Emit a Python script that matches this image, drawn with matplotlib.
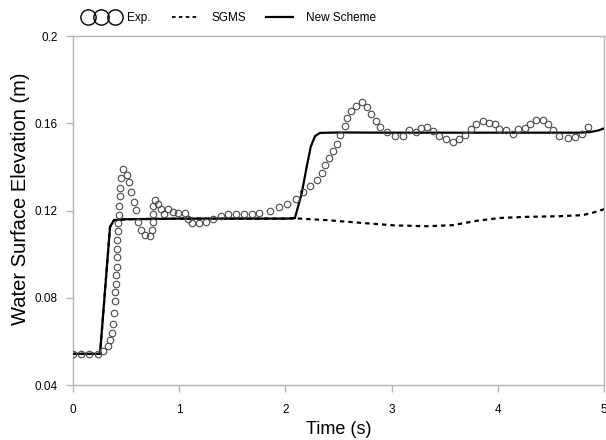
import matplotlib
matplotlib.use("Agg")
import matplotlib.pyplot as plt
from matplotlib.lines import Line2D
from matplotlib.legend_handler import HandlerLine2D

plt.rcParams['font.family'] = ['Liberation Sans', 'DejaVu Sans']

# Experimental data (time s, elevation m)
exp_t = [0.000, 0.078, 0.156, 0.235, 0.288, 0.335, 0.348, 0.370, 0.382, 0.389,
         0.395, 0.401, 0.407, 0.407, 0.414, 0.417, 0.420, 0.420, 0.423, 0.426,
         0.433, 0.436, 0.442, 0.448, 0.452, 0.476, 0.508, 0.527, 0.548, 0.577,
         0.595, 0.614, 0.643, 0.677, 0.727, 0.746, 0.753, 0.755, 0.755, 0.771,
         0.805, 0.831, 0.856, 0.894, 0.944, 0.993, 1.054, 1.087, 1.125, 1.188,
         1.251, 1.323, 1.392, 1.464, 1.536, 1.611, 1.690, 1.755, 1.859, 1.941,
         2.019, 2.103, 2.169, 2.232, 2.295, 2.342, 2.376, 2.411, 2.446, 2.484,
         2.515, 2.559, 2.583, 2.618, 2.662, 2.719, 2.771, 2.806, 2.850, 2.891,
         2.960, 3.035, 3.104, 3.164, 3.227, 3.274, 3.330, 3.389, 3.446, 3.512,
         3.580, 3.637, 3.693, 3.750, 3.797, 3.860, 3.916, 3.973, 4.010, 4.076,
         4.139, 4.192, 4.255, 4.302, 4.358, 4.427, 4.471, 4.516, 4.578, 4.657,
         4.728, 4.788, 4.848]
exp_y = [0.0543, 0.0543, 0.0543, 0.0543, 0.0557, 0.0579, 0.0606, 0.0640, 0.0678, 0.0731,
         0.0784, 0.0826, 0.0863, 0.0904, 0.0939, 0.0985, 0.1024, 0.1064, 0.1104, 0.1144,
         0.1180, 0.1221, 0.1266, 0.1304, 0.1347, 0.1390, 0.1362, 0.1329, 0.1283, 0.1238,
         0.1202, 0.1147, 0.1113, 0.1087, 0.1083, 0.1110, 0.1148, 0.1185, 0.1220, 0.1248,
         0.1232, 0.1205, 0.1182, 0.1206, 0.1194, 0.1187, 0.1187, 0.1161, 0.1141, 0.1144,
         0.1147, 0.1162, 0.1176, 0.1182, 0.1182, 0.1182, 0.1182, 0.1187, 0.1197, 0.1215,
         0.1231, 0.1255, 0.1283, 0.1312, 0.1339, 0.1370, 0.1407, 0.1441, 0.1475, 0.1507,
         0.1547, 0.1588, 0.1626, 0.1657, 0.1681, 0.1696, 0.1675, 0.1641, 0.1611, 0.1583,
         0.1559, 0.1541, 0.1541, 0.1568, 0.1560, 0.1579, 0.1582, 0.1564, 0.1541, 0.1526,
         0.1515, 0.1528, 0.1547, 0.1574, 0.1597, 0.1609, 0.1602, 0.1597, 0.1574, 0.1571,
         0.1549, 0.1574, 0.1577, 0.1597, 0.1614, 0.1614, 0.1597, 0.1571, 0.1544, 0.1532,
         0.1535, 0.1553, 0.1582]

# New Scheme
new_t = [0.0, 0.257, 0.351, 0.389, 0.5, 1.0, 1.5, 2.0, 2.09, 2.154, 2.201, 2.239,
         2.279, 2.326, 2.5, 3.0, 3.5, 4.0, 4.5, 4.77, 4.87, 4.95, 5.0]
new_y = [0.0543, 0.0543, 0.1125, 0.1156, 0.1160, 0.1163, 0.1163, 0.1163, 0.1165, 0.1278,
         0.1400, 0.1492, 0.1541, 0.1556, 0.1558, 0.1557, 0.1557, 0.1557, 0.1557, 0.1557,
         0.1560, 0.1568, 0.1577]

# SGMS
sgms_t = [0.0, 0.257, 0.351, 0.389, 0.5, 1.0, 1.5, 2.0, 2.1, 2.39, 2.70, 3.02, 3.33,
          3.58, 3.80, 4.02, 4.27, 4.58, 4.80, 4.90, 5.0]
sgms_y = [0.0543, 0.0543, 0.1125, 0.1156, 0.1160, 0.1163, 0.1163, 0.1163, 0.1164, 0.1156,
          0.1144, 0.1132, 0.1128, 0.1133, 0.1153, 0.1166, 0.1171, 0.1174, 0.1179, 0.1191,
          0.1206]

x_ticks = [0, 1, 2, 3, 4, 5]
y_ticks = [0.04, 0.08, 0.12, 0.16, 0.2]
y_tick_labels = ["0.04", "0.08", "0.12", "0.16", "0.2"]
legend_labels = ['Exp.', 'SGMS', 'New Scheme']

fig = plt.figure(figsize=(6.06, 4.40), dpi=100)
ax = fig.add_axes([0.12, 0.125, 0.877, 0.793])

ax.plot(sgms_t, sgms_y, color='black', lw=1.6, linestyle=(0, (2.0, 1.8)), zorder=2)
ax.plot(new_t, new_y, color='black', lw=1.6, zorder=3)
ax.plot(exp_t, exp_y, linestyle='none', marker='o', ms=4.7, mfc='none',
        mec='#4a4a4a', mew=0.8, zorder=4)

ax.set_xlim(0, 5)
ax.set_ylim(0.04, 0.2)
ax.set_xticks(x_ticks)
ax.set_yticks(y_ticks)
ax.set_yticklabels(y_tick_labels)
ax.tick_params(axis='both', direction='out', length=5, width=1, color='#b4b4b4',
               labelsize=8.5)
ax.tick_params(axis='x', pad=9)
ax.tick_params(axis='y', pad=6)
for s in ax.spines.values():
    s.set_color('#b4b4b4')
    s.set_linewidth(1.0)

ax.set_xlabel('Time (s)', fontsize=13, labelpad=3)
ax.set_ylabel('Water Surface Elevation (m)', fontsize=14.5)
ax.yaxis.set_label_coords(-0.08, 0.533)

handles = [
    Line2D([], [], linestyle='none', marker='o', ms=11, mfc='none', mec='black', mew=1.0),
    Line2D([], [], color='black', lw=1.3, linestyle=(0, (2.0, 1.8))),
    Line2D([], [], color='black', lw=1.6),
]
leg = fig.legend(handles, legend_labels, loc='center left',
                 bbox_to_anchor=(0.1215, 0.959), ncol=3, frameon=False, fontsize=8.5,
                 numpoints=3, handlelength=2.9, handletextpad=0.75, columnspacing=1.45,
                 handler_map={handles[0]: HandlerLine2D(numpoints=3, marker_pad=0.3)})

fig.savefig('out.png', dpi=100)
